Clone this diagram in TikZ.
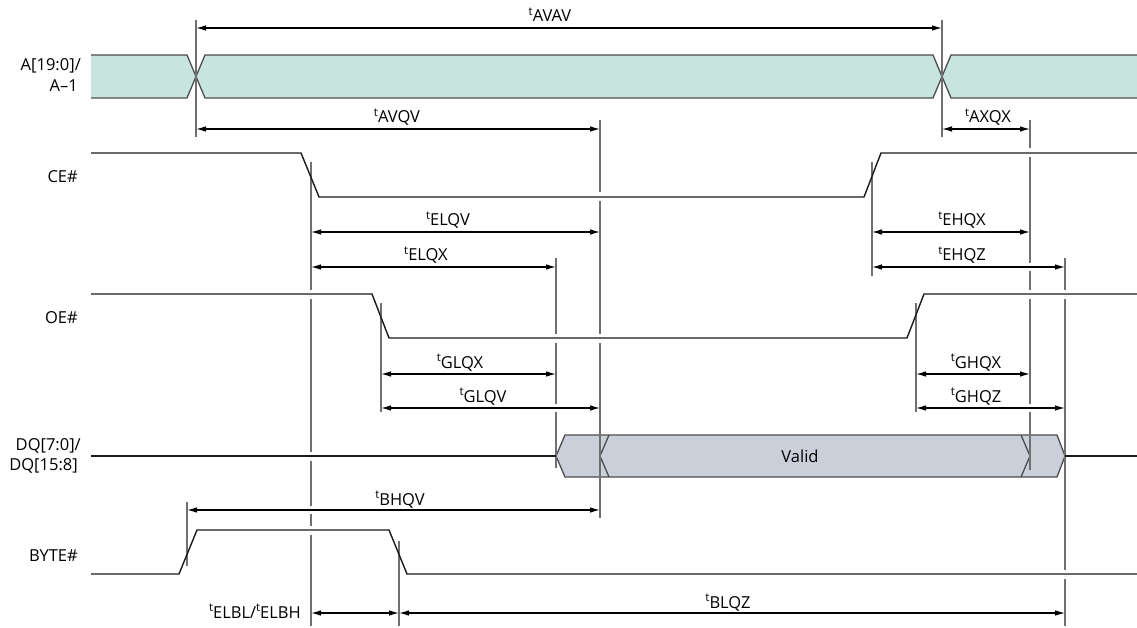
\documentclass[tikz,border=0pt]{standalone}
\usepackage{fontspec}
\setmainfont{Open Sans}
\usetikzlibrary{arrows.meta}
\definecolor{busfill}{HTML}{C7E4DE}
\definecolor{validfill}{HTML}{CBCFDA}
\definecolor{edgec}{HTML}{4D4D4D}
\definecolor{vc}{HTML}{707070}
\definecolor{sigc}{HTML}{1A1A1A}
\newcommand{\tlab}[1]{\raisebox{0.40em}{\fontsize{11.5}{11.5}\selectfont t}#1}
\tikzset{
  sig/.style={line width=1.4pt, draw=sigc, line join=miter},
  busedge/.style={line width=1.3pt, draw=edgec},
  vline/.style={line width=1.5pt, draw=vc},
  halo/.style={line width=9pt, draw=white, shorten <=4pt, shorten >=4pt},
  ahalo/.style={line width=8pt, draw=white, shorten <=12pt, shorten >=12pt},
  dim/.style={line width=1.1pt, draw=black, {Latex[length=10pt,width=5.5pt]}-{Latex[length=10pt,width=5.5pt]}},
  lab/.style={font=\fontsize{16.5}{20}\selectfont, inner sep=0pt, anchor=base},
  sname/.style={font=\fontsize{16.5}{20}\selectfont, inner sep=0pt, anchor=base east},
}
\begin{document}
\begin{tikzpicture}[x=1pt,y=-1pt]
\useasboundingbox[fill=white] (0,0) rectangle (1137,628);

% ---- address bus
\fill[busfill] (91,55) -- (187,55) -- (196,76) -- (187,98) -- (91,98) -- cycle;
\fill[busfill] (196,76) -- (205,55) -- (933,55) -- (942,76) -- (933,98) -- (205,98) -- cycle;
\fill[busfill] (942,76) -- (951,55) -- (1137,55) -- (1137,98) -- (951,98) -- cycle;
\draw[busedge] (91,55) -- (187,55) -- (205,98) -- (933,98) -- (951,55) -- (1137,55);
\draw[busedge] (91,98) -- (187,98) -- (205,55) -- (933,55) -- (951,98) -- (1137,98);

% ---- data valid
\filldraw[fill=validfill, busedge] (556,456) -- (565,435) -- (1057,435) -- (1065,456) -- (1057,477) -- (565,477) -- cycle;
\draw[busedge] (609,435) -- (600,456) -- (609,477);
\draw[busedge] (1021,435) -- (1030,456) -- (1021,477);
\node[lab] (valid) at (800,462) {Valid};

% ---- vertical reference lines
\coordinate (v196a) at (196,20);  \coordinate (v196b) at (196,137);
\coordinate (v942a) at (942,20);  \coordinate (v942b) at (942,137);
\coordinate (v600a) at (600,120); \coordinate (v600b) at (600,518);
\coordinate (v1030a) at (1030,120); \coordinate (v1030b) at (1030,470);
\coordinate (v311a) at (311,162); \coordinate (v311b) at (311,626);
\coordinate (v872a) at (872,162); \coordinate (v872b) at (872,276);
\coordinate (v556a) at (556,258); \coordinate (v556b) at (556,468);
\coordinate (v1065a) at (1065,258); \coordinate (v1065b) at (1065,626);
\coordinate (v381a) at (381,303); \coordinate (v381b) at (381,412);
\coordinate (v916a) at (916,303); \coordinate (v916b) at (916,412);
\coordinate (v187a) at (187,502); \coordinate (v187b) at (187,566);
\coordinate (v399a) at (399,541); \coordinate (v399b) at (399,626);
\foreach \v in {196,942,600,1030,311,872,556,1065,381,916,187,399}
  \draw[vline] (v\v a) -- (v\v b);

% ---- halos (gaps in the reference lines)
\draw[halo] (91,153) -- (301,153);
\draw[halo] (319,197) -- (864,197);
\draw[halo] (881,153) -- (1137,153);
\draw[halo] (91,294) -- (372,294);
\draw[halo] (389,338) -- (907,338);
\draw[halo] (924,294) -- (1137,294);
\draw[halo] (91,456) -- (556,456);
\draw[halo] (197,530) -- (389,530);
\draw[halo] (407,574) -- (1137,574);
\draw[ahalo] (381,408) -- (600,408);
\draw[ahalo] (916,408) -- (1065,408);
\draw[ahalo] (187,510) -- (600,510);
\draw[ahalo] (872,267) -- (1065,267);

% ---- signals
\draw[sig] (91,153) -- (301,153) -- (319,197) -- (864,197) -- (881,153) -- (1137,153);
\draw[sig] (91,294) -- (372,294) -- (389,338) -- (907,338) -- (924,294) -- (1137,294);
\draw[sig] (91,456) -- (556,456);
\draw[sig] (1065,456) -- (1137,456);
\draw[sig] (91,574) -- (179,574) -- (197,530) -- (389,530) -- (407,574) -- (1137,574);

% ---- signal names
\node[sname] (nA1) at (81,71) {A[19:0]/};
\node[sname] (nA2) at (78,92) {A–1};
\node[sname] (nCE) at (78,183) {CE\#};
\node[sname] (nOE) at (78,323) {OE\#};
\node[sname] (nDQ1) at (81,450) {DQ[7:0]/};
\node[sname] (nDQ2) at (78,470) {DQ[15:8]};
\node[sname] (nBY) at (78,561) {BYTE\#};

% ---- timing arrows
\draw[dim] (196,28) -- (942,28);
\draw[dim] (196,129) -- (600,129);
\draw[dim] (942,129) -- (1030,129);
\draw[dim] (311,232) -- (600,232);
\draw[dim] (311,267) -- (556,267);
\draw[dim] (872,232) -- (1030,232);
\draw[dim] (872,267) -- (1065,267);
\draw[dim] (381,374) -- (556,374);
\draw[dim] (381,408) -- (600,408);
\draw[dim] (916,374) -- (1030,374);
\draw[dim] (916,408) -- (1065,408);
\draw[dim] (187,510) -- (600,510);
\draw[dim] (311,613) -- (399,613);
\draw[dim] (399,613) -- (1065,613);

% ---- timing labels
\node[lab] (tavav) at (550,22) {\tlab{AVAV}};
\node[lab] (tavqv) at (397,123) {\tlab{AVQV}};
\node[lab] (taxqx) at (988,123) {\tlab{AXQX}};
\node[lab] (telqv) at (448,226) {\tlab{ELQV}};
\node[lab] (telqx) at (426,261) {\tlab{ELQX}};
\node[lab] (tehqx) at (962,226) {\tlab{EHQX}};
\node[lab] (tehqz) at (962,261) {\tlab{EHQZ}};
\node[lab] (tglqx) at (460,368) {\tlab{GLQX}};
\node[lab] (tglqv) at (483,402) {\tlab{GLQV}};
\node[lab] (tghqx) at (976,368) {\tlab{GHQX}};
\node[lab] (tghqz) at (976,402) {\tlab{GHQZ}};
\node[lab] (tbhqv) at (400,505) {\tlab{BHQV}};
\node[lab] (tblqz) at (728,608) {\tlab{BLQZ}};
\node[lab, anchor=base east] (telbl) at (301,618) {\tlab{ELBL}/\tlab{ELBH}};
\end{tikzpicture}
\end{document}
